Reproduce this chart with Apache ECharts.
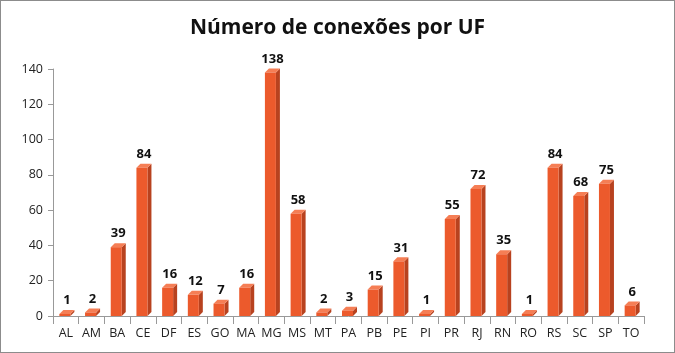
<!DOCTYPE html>
<html>
<head>
<meta charset="utf-8">
<script src="https://cdn.jsdelivr.net/npm/echarts@6/dist/echarts.min.js"></script>
<style>
  html, body { margin: 0; padding: 0; background: #fff; }
  #main { width: 673px; height: 351px; border: 1px solid #8c8c8c; }
</style>
</head>
<body>
<div id="main"></div>
<script>
var categories = ['AL', 'AM', 'BA', 'CE', 'DF', 'ES', 'GO', 'MA', 'MG', 'MS', 'MT', 'PA',
    'PB', 'PE', 'PI', 'PR', 'RJ', 'RN', 'RO', 'RS', 'SC', 'SP', 'TO'];
var conexoes = [1, 2, 39, 84, 16, 12, 7, 16, 138, 58, 2, 3, 15, 31, 1, 55, 72, 35, 1, 84, 68, 75, 6];

var myChart = echarts.init(document.getElementById('main'));

// barra "3D": face frontal + lateral + topo
function renderBar(params, api) {
    var top = api.coord([api.value(0), api.value(1)]);
    var base = api.coord([api.value(0), 0]);
    var w = 11, d = 4;
    var x0 = top[0] - w / 2 - 1;
    var h = Math.max(base[1] - top[1], 2);
    var y0 = base[1] - h;
    return {
        type: 'group',
        children: [
            {
                type: 'polygon',
                shape: { points: [[x0 + w, y0], [x0 + w + d, y0 - d], [x0 + w + d, base[1] - d], [x0 + w, base[1]]] },
                style: { fill: '#b8421f' }
            },
            {
                type: 'polygon',
                shape: { points: [[x0, y0], [x0 + d, y0 - d], [x0 + w + d, y0 - d], [x0 + w, y0]] },
                style: { fill: '#f57e55' }
            },
            {
                type: 'rect',
                shape: { x: x0, y: y0, width: w, height: h },
                style: { fill: '#ec5a2c' }
            },
            {
                type: 'text',
                style: {
                    text: String(api.value(1)),
                    x: top[0] + 1, y: y0 - d - 3,
                    align: 'center', verticalAlign: 'bottom',
                    font: 'bold 13px "Open Sans", sans-serif',
                    fill: '#111'
                }
            }
        ]
    };
}

var option = {
    title: {
        text: 'Número de conexões por UF',
        left: 'center',
        top: 12,
        textStyle: { fontFamily: 'Open Sans', fontWeight: 'bold', fontSize: 21, color: '#111' }
    },
    grid: { left: 52, right: 30, top: 68, bottom: 36 },
    xAxis: {
        type: 'category',
        data: categories,
        axisLine: { lineStyle: { color: '#999' } },
        axisTick: { show: true, length: 8, lineStyle: { color: '#999' } },
        axisLabel: { color: '#222', fontSize: 12.5, fontFamily: 'Open Sans', margin: 11, interval: 0 }
    },
    yAxis: {
        type: 'value',
        min: 0,
        max: 140,
        interval: 20,
        axisLine: { show: true, lineStyle: { color: '#999' } },
        axisTick: { show: true, length: 5, lineStyle: { color: '#999' } },
        splitLine: { show: false },
        axisLabel: { color: '#222', fontSize: 12.5, fontFamily: 'Open Sans', margin: 10 }
    },
    series: [
        {
            type: 'custom',
            renderItem: renderBar,
            encode: { x: 0, y: 1 },
            data: categories.map(function (c, i) { return [i, conexoes[i]]; })
        }
    ]
};
myChart.setOption(option);
</script>
</body>
</html>
